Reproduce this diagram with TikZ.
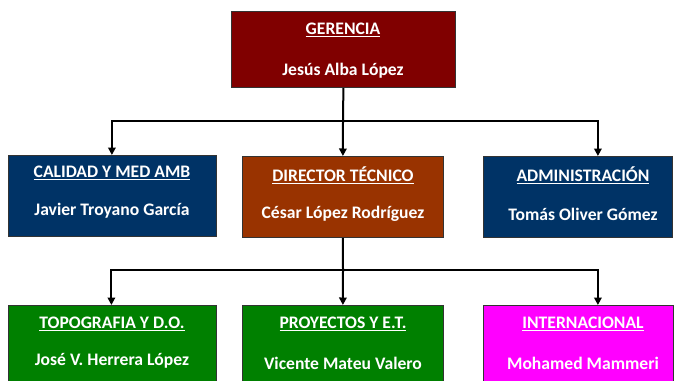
\documentclass[tikz,border=0pt]{standalone}
\usepackage{fontspec}
\setmainfont{Carlito}
\usetikzlibrary{arrows.meta}
\definecolor{gerred}{HTML}{800000}
\definecolor{navy}{HTML}{003366}
\definecolor{rust}{HTML}{993300}
\definecolor{grn}{HTML}{008000}
\definecolor{mag}{HTML}{FF00FF}
\tikzset{
  box/.style={draw=black!80, line width=0.8pt, rectangle, inner sep=0pt, anchor=north west},
  ttl/.style={text=white, font=\fontsize{17.6}{20}\selectfont\bfseries, inner sep=0pt},
  nm/.style={text=white, font=\fontsize{17.6}{20}\selectfont\bfseries, inner sep=0pt},
  ln/.style={line width=2pt, black},
  arr/.style={line width=2pt, black, -{Triangle[width=7.5pt,length=7.5pt]}}
}
\newcommand{\ul}[1]{\underline{#1}}
\begin{document}
\begin{tikzpicture}[x=1pt,y=-1pt]
\useasboundingbox (0,0) rectangle (674,380);
% top
\node[box, fill=gerred, minimum width=224pt, minimum height=76pt] (g) at (231,11) {};
\node[ttl] (gt) at (343,30) {\ul{GERENCIA}};
\node[nm] (gn) at (343,71) {Jesús Alba López};
% second row
\node[box, fill=navy, minimum width=208pt, minimum height=81pt] (cal) at (8,155) {};
\node[ttl] (calt) at (112,173) {\ul{CALIDAD Y MED AMB}};
\node[nm] (caln) at (112,211) {Javier Troyano García};
\node[box, fill=rust, minimum width=201pt, minimum height=81pt] (dir) at (242,156) {};
\node[ttl] (dirt) at (343,175) {\ul{DIRECTOR TÉCNICO}};
\node[nm] (dirn) at (343,214) {César López Rodríguez};
\node[box, fill=navy, minimum width=189pt, minimum height=81pt] (adm) at (483,156) {};
\node[ttl] (admt) at (583,175) {\ul{ADMINISTRACIÓN}};
\node[nm] (admn) at (583,214) {Tomás Oliver Gómez};
% third row
\node[box, fill=grn, minimum width=208pt, minimum height=90pt] (top) at (8,305) {};
\node[ttl] (topt) at (112,324) {\ul{TOPOGRAFIA Y D.O.}};
\node[nm] (topn) at (112,361) {José V. Herrera López};
\node[box, fill=grn, minimum width=201pt, minimum height=90pt] (pro) at (242,305) {};
\node[ttl] (prot) at (343,324) {\ul{PROYECTOS Y E.T.}};
\node[nm] (pron) at (343,363) {Vicente Mateu Valero};
\node[box, fill=mag, minimum width=190pt, minimum height=90pt] (int) at (483,305) {};
\node[ttl] (intt) at (583,324) {\ul{INTERNACIONAL}};
\node[nm] (intn) at (583,363) {Mohamed Mammeri};
% connectors
\coordinate (j1) at (343,121);
\coordinate (j2) at (343,270);
\draw[ln] (g.south) -- (j1);
\draw[arr] (j1) -| ([xshift=-0.5pt]cal.north);
\draw[arr] (j1) -- (dir.north);
\draw[arr] (j1) -| ([xshift=20pt]adm.north);
\draw[ln] (dir.south) -- (j2);
\draw[arr] (j2) -| ([xshift=-1pt]top.north);
\draw[arr] (j2) -- (pro.north);
\draw[arr] (j2) -| ([xshift=19.5pt]int.north);
\end{tikzpicture}
\end{document}
